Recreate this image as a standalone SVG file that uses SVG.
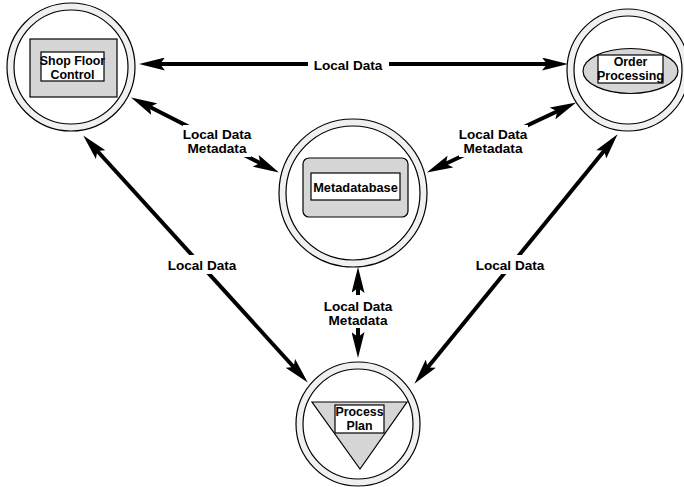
<svg xmlns="http://www.w3.org/2000/svg" width="684" height="487" viewBox="0 0 684 487">
<defs>
<marker id="ah" markerUnits="userSpaceOnUse" markerWidth="26" markerHeight="13" refX="7" refY="6.5" orient="auto-start-reverse">
<path d="M0,0 L26,6.5 L0,13 L5,6.5 z" fill="#000"/>
</marker>
<style>
.ring{fill:#f0f0f0;stroke:#000;stroke-width:1.2}
.inner{fill:#fff;stroke:#000;stroke-width:1.2}
.shape{fill:#d6d6d6;stroke:#000;stroke-width:1.2}
.box{fill:#fff;stroke:#000;stroke-width:1.2}
.nt{font-family:"Liberation Sans",Arial,sans-serif;font-weight:bold;font-size:12.4px;text-anchor:middle;fill:#000}
.mt{font-size:12.8px}
.et{font-family:"Liberation Sans",Arial,sans-serif;font-weight:bold;font-size:13.6px;text-anchor:middle;fill:#000}
.ln{stroke:#000;stroke-width:4;fill:none;marker-start:url(#ah);marker-end:url(#ah)}
.bg{fill:#fff}
</style>
</defs>
<rect width="684" height="487" fill="#fff"/>
<g id="connectors">
<line class="ln" x1="158" y1="64" x2="549" y2="64"/>
<line class="ln" x1="148" y1="106" x2="262" y2="164"/>
<line class="ln" x1="444" y1="164.5" x2="559" y2="110.5"/>
<line class="ln" x1="358" y1="286" x2="358" y2="339"/>
<line class="ln" x1="96" y1="149.5" x2="295" y2="368.5"/>
<line class="ln" x1="605.6" y1="149" x2="426.4" y2="369"/>
<rect class="bg" x="308" y="55" width="81" height="18"/>
<text class="et" x="348" y="70">Local Data</text>
<rect class="bg" x="183" y="125" width="68" height="32"/>
<text class="et" x="217" y="139">Local Data</text>
<text class="et" x="217" y="153">Metadata</text>
<rect class="bg" x="459" y="125" width="69" height="32"/>
<text class="et" x="493" y="139">Local Data</text>
<text class="et" x="493" y="153">Metadata</text>
<rect class="bg" x="321" y="295" width="74" height="33"/>
<text class="et" x="358" y="311">Local Data</text>
<text class="et" x="358" y="325">Metadata</text>
<rect class="bg" x="164" y="255" width="76" height="19"/>
<text class="et" x="202" y="270">Local Data</text>
<rect class="bg" x="472" y="255" width="76" height="19"/>
<text class="et" x="510" y="270">Local Data</text>
</g>
<g id="shop-floor">
<circle class="ring" cx="71" cy="67" r="64"/>
<circle class="inner" cx="71" cy="67" r="57"/>
<rect class="shape" x="30" y="39" width="87" height="58"/>
<rect class="box" x="41" y="52" width="63" height="29"/>
<text class="nt" x="72.5" y="65">Shop Floor</text>
<text class="nt" x="72.5" y="79">Control</text>
</g>
<g id="order-processing">
<circle class="ring" cx="628" cy="70" r="61"/>
<circle class="inner" cx="628" cy="70" r="54"/>
<ellipse class="shape" cx="630.5" cy="71" rx="47.5" ry="22.5"/>
<rect class="box" x="598" y="55" width="65" height="28"/>
<text class="nt" x="630.5" y="66">Order</text>
<text class="nt" x="630.5" y="80">Processing</text>
</g>
<g id="metadatabase">
<circle class="ring" cx="353" cy="193" r="74"/>
<circle class="inner" cx="353" cy="193" r="67"/>
<rect class="shape" x="303" y="158" width="105" height="59" rx="6"/>
<rect class="box" x="311" y="173" width="89" height="27"/>
<text class="nt mt" x="355.5" y="191.5">Metadatabase</text>
</g>
<g id="process-plan">
<circle class="ring" cx="358" cy="424" r="62"/>
<circle class="inner" cx="358" cy="424" r="55"/>
<polygon class="shape" points="312,402 407,402 360,469"/>
<rect class="box" x="335" y="405" width="49" height="28"/>
<text class="nt" x="359.5" y="416">Process</text>
<text class="nt" x="359.5" y="430">Plan</text>
</g>
</svg>
